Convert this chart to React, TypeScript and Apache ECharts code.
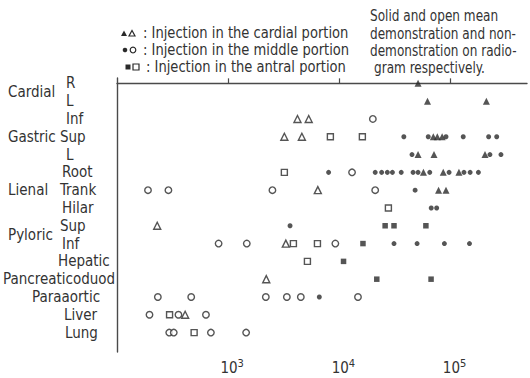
import React, { useEffect, useRef } from 'react';
import * as echarts from 'echarts';

// ---- data ----
const rowLabels = ['R', 'L', 'Inf', 'Sup', 'L', 'Root', 'Trank', 'Hilar', 'Sup', 'Inf', 'Hepatic', 'Pancreaticoduod', 'Paraaortic', 'Liver', 'Lung'];
const groupNames = ['Cardial', 'Gastric', 'Lienal', 'Pyloric'];
const groupRows = [0.5, 3, 6, 8.5];
const xTickValues = [1000, 10000, 100000];

// [value, row index]
const cardialSolid: [number, number][] = [
  [51000, 0], [62000, 1], [210000, 1],
  [70000, 3], [76000, 3], [84000, 3],
  [51000, 4], [71000, 4], [204000, 4],
  [57000, 5], [86000, 5], [119000, 5],
  [78000, 6], [91000, 6],
];
const cardialOpen: [number, number][] = [
  [4200, 2], [5300, 2], [3200, 3], [4600, 3], [6400, 6], [230, 8], [3300, 9], [2200, 11], [410, 13],
];
const middleSolid: [number, number][] = [
  [38000, 3], [63000, 3], [91000, 3], [130000, 3], [220000, 3], [260000, 3],
  [45000, 4], [226000, 4], [284000, 4],
  [8000, 5], [21000, 5], [24000, 5], [27000, 5], [30000, 5], [36000, 5], [46000, 5], [51000, 5], [65000, 5], [97000, 5], [132000, 5], [150000, 5], [178000, 5],
  [48000, 6], [67000, 7], [75000, 7], [3600, 8],
  [31000, 9], [50000, 9], [88000, 9], [148000, 9], [6600, 12],
];
const middleOpen: [number, number][] = [
  [20000, 2], [13000, 5],
  [190, 6], [290, 6], [2500, 6], [21000, 6],
  [820, 9], [1470, 9], [9200, 9],
  [233, 12], [465, 12], [2180, 12], [3370, 12], [4500, 12], [14700, 12],
  [196, 13], [357, 13], [631, 13],
  [295, 14], [324, 14], [699, 14], [1450, 14],
];
const antralSolid: [number, number][] = [
  [25800, 8], [31000, 8], [60000, 8], [16300, 9], [10900, 10], [21700, 11], [66800, 11],
];
const antralOpen: [number, number][] = [
  [8300, 3], [16100, 3], [3200, 5], [27600, 7], [3860, 9], [6350, 9], [5160, 10], [297, 13], [494, 14],
];

const legendLines = [': Injection in the cardial portion', ': Injection in the middle portion', ': Injection in the antral portion'];
const noteLines = ['Solid and open mean', 'demonstration and non-', 'demonstration on radio-', 'gram respectively.'];

// ---- styles ----
const FONT = '"DejaVu Sans Condensed", "DejaVu Sans", sans-serif';
const INK = '#2a2a2a';
const TXT = '#333';
const AXIS = '#4a4a4a';
const labelLeft = [66, 66, 66, 60, 66, 62, 60, 62, 60, 62, 58, 3, 32, 64, 65];

export default function App() {
  const ref = useRef<HTMLDivElement>(null);
  useEffect(() => {
    if (!ref.current) return;
    const chart = echarts.init(ref.current, null, { renderer: 'svg' });
    const rich: Record<string, any> = {};
    labelLeft.forEach((l, i) => {
      rich['r' + i] = { fontFamily: FONT, fontSize: 15, color: TXT, padding: [0, 0, 0, l] };
    });
    const open = { color: '#fff', borderColor: INK, borderWidth: 1.4 };
    const solid = { color: INK };
    const mk = (name: string, data: [number, number][], symbol: string, size: number, style: any) => ({
      name, type: 'scatter', data, symbol, symbolSize: size, itemStyle: style, z: style.color === '#fff' ? 2 : 3,
    });
    const legendY = [33, 50, 67];
    const legendTextX = [143, 143, 146];
    const graphic: any[] = [];
    legendLines.forEach((t, i) => {
      graphic.push({ type: 'text', x: legendTextX[i], y: legendY[i], scaleX: 0.91, style: { text: t, font: `16px ${FONT}`, fill: TXT, textVerticalAlign: 'middle' } });
    });
    noteLines.forEach((t, i) => {
      graphic.push({ type: 'text', x: i === 3 ? 374 : 370, y: [15, 33, 50, 67][i], scaleX: 0.84, style: { text: t, font: `16px ${FONT}`, fill: TXT, textVerticalAlign: 'middle' } });
    });
    // legend markers
    graphic.push({ type: 'polygon', shape: { points: [[121, 36], [127, 36], [124, 30.5]] }, style: { fill: INK } });
    graphic.push({ type: 'polygon', shape: { points: [[129, 36], [135, 36], [132, 30.5]] }, style: { fill: '#fff', stroke: INK, lineWidth: 1.2 } });
    graphic.push({ type: 'circle', shape: { cx: 125, cy: 50, r: 2.3 }, style: { fill: INK } });
    graphic.push({ type: 'circle', shape: { cx: 133, cy: 50, r: 2.8 }, style: { fill: '#fff', stroke: INK, lineWidth: 1.2 } });
    graphic.push({ type: 'rect', shape: { x: 125.5, y: 64.5, width: 5, height: 5 }, style: { fill: INK } });
    graphic.push({ type: 'rect', shape: { x: 133, y: 64, width: 6, height: 6 }, style: { fill: '#fff', stroke: INK, lineWidth: 1.2 } });

    chart.setOption({
      animation: false,
      backgroundColor: '#fff',
      grid: { left: 117, right: 3, top: 78, bottom: 26 },
      xAxis: {
        type: 'log', logBase: 10, min: 100, max: 487000,
        axisLine: { show: true, lineStyle: { color: AXIS, width: 1.4 } },
        axisTick: { show: true, inside: true, length: 5, customValues: xTickValues, lineStyle: { color: AXIS, width: 1.2 } },
        splitLine: { show: false },
        axisLabel: {
          customValues: xTickValues, margin: 6, padding: [0, 0, 0, 8],
          formatter: (v: number) => `{b|10}{s|${Math.round(Math.log10(v))}}`,
          rich: {
            b: { fontFamily: FONT, fontSize: 15, color: TXT },
            s: { fontFamily: FONT, fontSize: 11, color: TXT, padding: [0, 0, 9, 0] },
          },
        },
      },
      yAxis: [
        {
          type: 'value', inverse: true, min: -0.3, max: 15.09,
          axisLine: { show: true, lineStyle: { color: AXIS, width: 1.4 } },
          axisTick: { show: false }, splitLine: { show: false },
          axisLabel: {
            customValues: rowLabels.map((_, i) => i), align: 'left', margin: 117,
            formatter: (v: number) => `{r${v}|${rowLabels[v]}}`, rich,
          },
        },
        {
          type: 'value', inverse: true, min: -0.3, max: 15.09, position: 'left',
          axisLine: { show: false }, axisTick: { show: false }, splitLine: { show: false },
          axisLabel: {
            customValues: groupRows, align: 'left', margin: 109,
            fontFamily: FONT, fontSize: 15, color: TXT,
            formatter: (v: number) => groupNames[groupRows.indexOf(v)] ?? '',
          },
        },
      ],
      graphic,
      series: [
        mk('cardialOpen', cardialOpen, 'triangle', 7, open),
        mk('middleOpen', middleOpen, 'circle', 6.5, open),
        mk('antralOpen', antralOpen, 'rect', 6, open),
        mk('cardialSolid', cardialSolid, 'triangle', 7, solid),
        mk('middleSolid', middleSolid, 'circle', 5, solid),
        mk('antralSolid', antralSolid, 'rect', 5.5, solid),
      ],
    });
    return () => chart.dispose();
  }, []);
  return <div ref={ref} style={{ position: 'fixed', left: 0, top: 0, width: 530, height: 378 }} />;
}
